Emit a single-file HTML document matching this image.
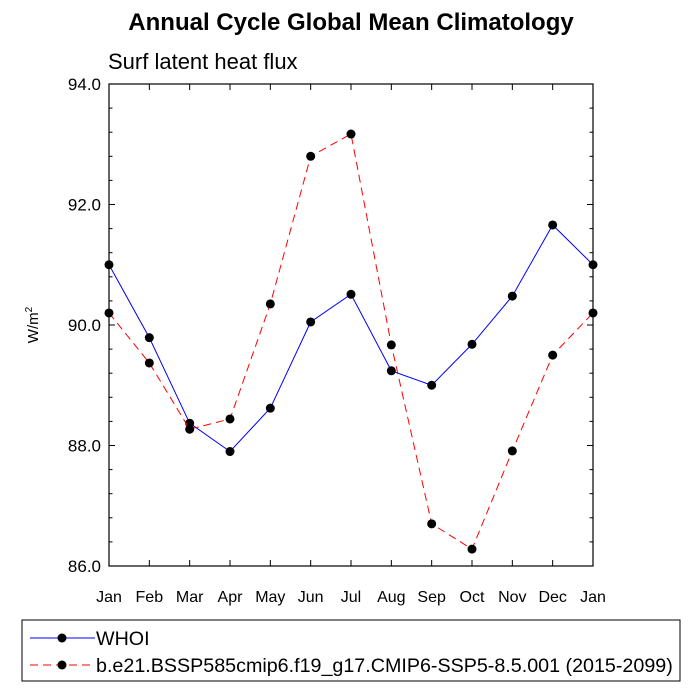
<!DOCTYPE html>
<html><head><meta charset="utf-8"><style>body{margin:0;background:#fff}svg{display:block;font-family:"Liberation Sans",sans-serif}</style></head>
<body>
<svg id="c" width="700" height="700">
<text x="351" y="30" text-anchor="middle" font-size="24" font-weight="bold">Annual Cycle Global Mean Climatology</text>
<text x="108" y="69" font-size="22">Surf latent heat flux</text>
<text transform="translate(38,325) rotate(-90)" text-anchor="middle" font-size="15">W/m<tspan font-size="10" dy="-6">2</tspan></text>
<rect x="109" y="84" width="484" height="482" fill="none" stroke="#000" stroke-width="1.2"/>
<g id="ax"></g><g id="series"></g>
<rect x="22" y="620" width="658" height="61" fill="none" stroke="#000" stroke-width="1"/>
<g><line x1="30" y1="638" x2="95" y2="638" stroke="#0000ff"/><circle cx="62" cy="638" r="4.5"/><text x="96" y="645" font-size="19.7">WHOI</text></g>
<g><line x1="30" y1="665" x2="95" y2="665" stroke="#ff0000" stroke-dasharray="8,5"/><circle cx="62" cy="665" r="4.5"/><text x="96" y="672" font-size="19.7">b.e21.BSSP585cmip6.f19_g17.CMIP6-SSP5-8.5.001 (2015-2099)</text></g>
</svg>
<script>
const months=["Jan","Feb","Mar","Apr","May","Jun","Jul","Aug","Sep","Oct","Nov","Dec","Jan"];
const whoi=[91.00,89.79,88.37,87.90,88.62,90.05,90.51,89.24,89.00,89.68,90.48,91.66,91.00];
const cesm=[90.20,89.37,88.27,88.44,90.35,92.80,93.17,89.67,86.70,86.28,87.91,89.50,90.20];
const yTicks=["86.0","88.0","90.0","92.0","94.0"];
const ns="http://www.w3.org/2000/svg";
const X0=109,X1=593,Y0=566,Y1=84,ymin=86,ymax=94;
const xs=i=>X0+(X1-X0)*i/(months.length-1);
const ys=v=>Y0-(v-ymin)/(ymax-ymin)*(Y0-Y1);
function mk(t,a,p){const e=document.createElementNS(ns,t);for(const k in a)e.setAttribute(k,a[k]);p.appendChild(e);return e;}
const ax=document.getElementById('ax');
months.forEach((m,i)=>{const x=xs(i);
 mk('line',{x1:x,y1:Y0,x2:x,y2:Y0-6,stroke:'#000'},ax);
 mk('line',{x1:x,y1:Y1,x2:x,y2:Y1+6,stroke:'#000'},ax);
 const t=mk('text',{x:x,y:Y0+36,'text-anchor':'middle','font-size':'16'},ax);t.textContent=m;
 
 });
for(let v=ymin;v<=ymax+1e-6;v+=0.4){const y=ys(v);const maj=Math.abs(v/2-Math.round(v/2))<1e-3;const L=maj?6:3.5;
 mk('line',{x1:X0,y1:y,x2:X0+L,y2:y,stroke:'#000'},ax);mk('line',{x1:X1,y1:y,x2:X1-L,y2:y,stroke:'#000'},ax);}
yTicks.forEach(s=>{const t=mk('text',{x:X0-8,y:ys(parseFloat(s))+6,'text-anchor':'end','font-size':'17'},ax);t.textContent=s;
 
 });
const sg=document.getElementById('series');
function draw(data,color,dash,name){
 const g=mk('g',{},sg);
 
 
 const p=mk('polyline',{points:data.map((v,i)=>xs(i)+','+ys(v)).join(' '),fill:'none',stroke:color,'stroke-width':1},g);
 if(dash)p.setAttribute('stroke-dasharray',dash);
 data.forEach((v,i)=>{const c=mk('circle',{cx:xs(i),cy:ys(v),r:4.5,fill:'#000'},g);
  
  });
}
draw(whoi,'#0000ff',null,'series-whoi');
draw(cesm,'#ff0000','8,5','series-cesm');
</script>
</body></html>
